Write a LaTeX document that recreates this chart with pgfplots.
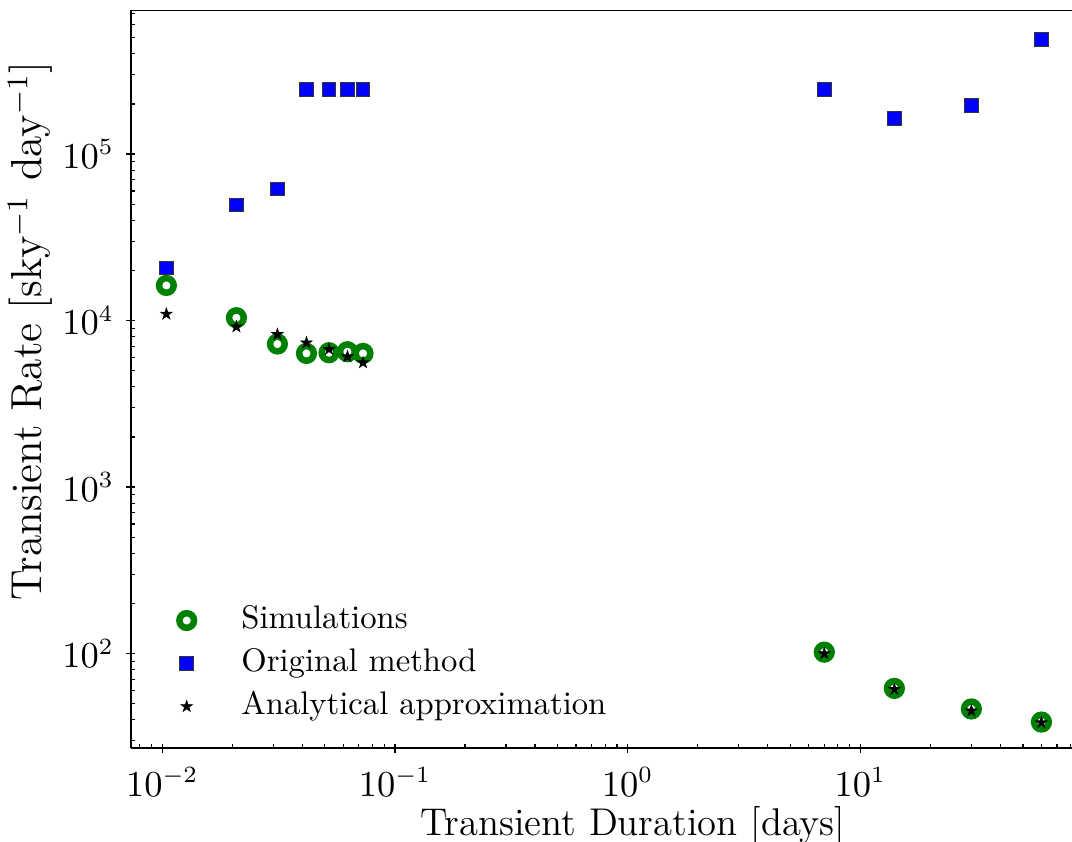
\documentclass[border=0pt]{standalone}
\usepackage{pgfplots}
\pgfplotsset{compat=1.18}
\definecolor{mgreen}{HTML}{008000}
\definecolor{mblue}{HTML}{0000FF}
\pgfdeclareplotmark{fstar}{%
  \pgfpathmoveto{\pgfpointpolar{90}{\pgfplotmarksize}}%
  \pgfpathlineto{\pgfpointpolar{126}{0.382\pgfplotmarksize}}%
  \pgfpathlineto{\pgfpointpolar{162}{\pgfplotmarksize}}%
  \pgfpathlineto{\pgfpointpolar{198}{0.382\pgfplotmarksize}}%
  \pgfpathlineto{\pgfpointpolar{234}{\pgfplotmarksize}}%
  \pgfpathlineto{\pgfpointpolar{270}{0.382\pgfplotmarksize}}%
  \pgfpathlineto{\pgfpointpolar{306}{\pgfplotmarksize}}%
  \pgfpathlineto{\pgfpointpolar{342}{0.382\pgfplotmarksize}}%
  \pgfpathlineto{\pgfpointpolar{18}{\pgfplotmarksize}}%
  \pgfpathlineto{\pgfpointpolar{54}{0.382\pgfplotmarksize}}%
  \pgfpathclose
  \pgfusepathqfillstroke
}
\begin{document}
\begin{tikzpicture}
\begin{loglogaxis}[
  scale only axis,
  width=282.3pt, height=221.4pt,
  xmin=0.00734, xmax=81.2,
  ymin=27.1, ymax=7.33e5,
  axis x line*=bottom, axis y line*=left,
  axis line style={line width=0.75pt},
  tick align=inside,
  major tick length=-1.5pt,
  minor tick length=1.2pt,
  every tick/.style={black, line width=0.35pt},
  tick label style={font=\fontsize{10.6}{12}\selectfont},
  yticklabel style={xshift=-1.6pt},
  xticklabel style={yshift=-2.4pt},
  xlabel={Transient Duration [days]},
  ylabel={Transient Rate [sky$^{-1}$ day$^{-1}$]},
  x label style={at={(axis description cs:0.5335,-0.118)}, anchor=base, font=\fontsize{11.6}{13}\selectfont},
  y label style={at={(axis description cs:-0.0946,0.565)}, rotate=0, anchor=base, font=\fontsize{13}{15}\selectfont},
  legend image code/.code={\draw[mark repeat=1,#1] plot coordinates {(0pt,0pt)}; \path[draw=none,fill=none] (-7.2pt,-3pt) rectangle (16.4pt,3pt);},
  legend style={at={(axis description cs:0.033,0.194)}, anchor=north west, draw=none, fill=none, inner sep=0pt,
    font=\fontsize{9.8}{12}\selectfont, row sep=3.9pt,
    nodes={inner sep=0pt, text height=7pt, text depth=2pt}},
  legend cell align=left,
]
\addplot[only marks, mark=*, mark size=2.2pt, mark options={draw=mgreen, fill=white, line width=1.95pt}]
coordinates {
(0.010417,16250) (0.020833,10400) (0.03125,7230) (0.041667,6350) (0.052083,6410) (0.0625,6500) (0.072917,6350)
(7,102) (14,61.8) (30,46.5) (60,38.8)
};
\addlegendentry{Simulations}
\addplot[only marks, mark=square*, mark size=2.05pt, mark options={draw=black!80, fill=mblue, line width=0.3pt}]
coordinates {
(0.010417,20700) (0.020833,49400) (0.03125,61700) (0.041667,245000) (0.052083,245000) (0.0625,245000) (0.072917,245000)
(7,245000) (14,163700) (30,195000) (60,488600)
};
\addlegendentry{Original method}
\addplot[only marks, mark=fstar, mark size=1.8pt, mark options={draw=black, fill=black, line width=0.2pt}]
coordinates {
(0.010417,10940) (0.020833,9180) (0.03125,8260) (0.041667,7360) (0.052083,6720) (0.0625,6070) (0.072917,5590)
(7,100) (14,61) (30,45.3) (60,38.5)
};
\addlegendentry{Analytical approximation}
\draw[line width=0.75pt] (rel axis cs:0,1) -- (rel axis cs:1,1);
\coordinate (bl) at (rel axis cs:0,0);
\coordinate (tr) at (rel axis cs:1,1);
\end{loglogaxis}
\pgfresetboundingbox
\path ([xshift=-39.3pt,yshift=-27.9pt]bl) rectangle ([yshift=3pt]tr);
\end{tikzpicture}
\end{document}
